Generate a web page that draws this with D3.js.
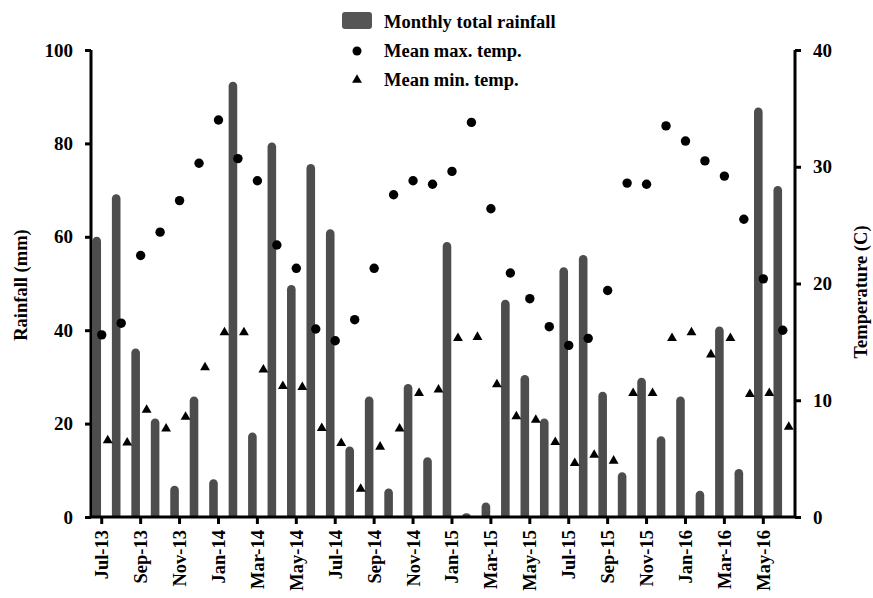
<!DOCTYPE html>
<html>
<head>
<meta charset="utf-8">
<script src="https://cdn.jsdelivr.net/npm/d3@7"></script>
<style>
  body { margin: 0; background: #fff; }
  text { font-family: "Liberation Serif", "Times New Roman", serif; font-weight: bold; fill: #000; }
</style>
</head>
<body>
<svg id="chart" width="873" height="598"></svg>
<script>
// months Jul-13 .. Jun-16
const months = ['Jul-13','Aug-13','Sep-13','Oct-13','Nov-13','Dec-13',
  'Jan-14','Feb-14','Mar-14','Apr-14','May-14','Jun-14','Jul-14','Aug-14','Sep-14','Oct-14','Nov-14','Dec-14',
  'Jan-15','Feb-15','Mar-15','Apr-15','May-15','Jun-15','Jul-15','Aug-15','Sep-15','Oct-15','Nov-15','Dec-15',
  'Jan-16','Feb-16','Mar-16','Apr-16','May-16','Jun-16'];
const rainfall = [60.0, 69.1, 36.1, 21.1, 6.7, 25.8,
  8.1, 93.2, 18.1, 80.2, 49.7, 75.6, 61.6, 15.1, 25.8, 6.1, 28.5, 12.8,
  58.9, 0.8, 3.1, 46.5, 30.4, 21.1, 53.5, 56.1, 26.8, 9.6, 29.8, 17.3,
  25.8, 5.6, 40.8, 10.3, 87.7, 70.9];
const maxTemp = [15.6, 16.6, 22.4, 24.4, 27.1, 30.3,
  34.0, 30.7, 28.8, 23.3, 21.3, 16.1, 15.1, 16.9, 21.3, 27.6, 28.8, 28.5,
  29.6, 33.8, 26.4, 20.9, 18.7, 16.3, 14.7, 15.3, 19.4, 28.6, 28.5, 33.5,
  32.2, 30.5, 29.2, 25.5, 20.4, 16.0];
const minTemp = [6.65, 6.45, 9.25, 7.65, 8.65, 12.9,
  15.9, 15.9, 12.7, 11.3, 11.2, 7.7, 6.4, 2.5, 6.1, 7.65, 10.7, 11.0,
  15.4, 15.5, 11.45, 8.7, 8.4, 6.5, 4.7, 5.4, 4.9, 10.7, 10.7, 15.4,
  15.9, 14.0, 15.4, 10.6, 10.7, 7.8];
const rainTicks = [0, 20, 40, 60, 80, 100];
const tempTicks = [0, 10, 20, 30, 40];
const tickLabels = months.filter((d, i) => i % 2 === 0);

const svg = d3.select('#chart');
const pLeft = 91, pRight = 795, pTop = 50, pBottom = 517;
const barColor = '#4d4d4d';

let x = d3.scaleBand().domain(months).range([92, 792.5]);
let yRain = d3.scaleLinear().domain([0, 100]).range([pBottom, pTop]);
let yTemp = d3.scaleLinear().domain([0, 40]).range([pBottom, pTop]);
const cx = (d) => x(d) + x.bandwidth() / 2;

// bars with rounded top
const bw = 8.6, r = bw / 2;
svg.append('g')
  .selectAll('path')
  .data(months)
  .enter()
  .append('path')
  .attr('fill', barColor)
  .attr('d', (d, i) => {
    let x0 = cx(d) - 5 - bw / 2;
    let yt = yRain(rainfall[i]);
    let h = pBottom - yt;
    let rr = Math.min(r, h);
    return 'M' + x0 + ',' + pBottom +
      'V' + (yt + rr) +
      'A' + r + ',' + rr + ' 0 0 1 ' + (x0 + bw) + ',' + (yt + rr) +
      'V' + pBottom + 'Z';
  });

// max temp circles
svg.append('g')
  .selectAll('circle')
  .data(months)
  .enter()
  .append('circle')
  .attr('cx', (d) => cx(d))
  .attr('cy', (d, i) => yTemp(maxTemp[i]))
  .attr('r', 4.7)
  .attr('fill', '#000');

// min temp triangles
const tri = d3.symbol().type(d3.symbolTriangle).size(42);
svg.append('g')
  .selectAll('path')
  .data(months)
  .enter()
  .append('path')
  .attr('d', tri)
  .attr('transform', (d, i) => 'translate(' + (cx(d) + 6) + ',' + (yTemp(minTemp[i]) + 1) + ')')
  .attr('fill', '#000');

// axes
const styleAxis = (g) => {
  g.select('.domain').remove();
  g.selectAll('.tick line').attr('stroke', '#000').attr('stroke-width', 3);
  g.selectAll('.tick text').style('font-size', '19px');
};

svg.append('g')
  .attr('transform', 'translate(' + pLeft + ',0)')
  .call(d3.axisLeft(yRain).tickValues(rainTicks).tickSize(6).tickPadding(12))
  .call(styleAxis);

svg.append('g')
  .attr('transform', 'translate(' + pRight + ',0)')
  .call(d3.axisRight(yTemp).tickValues(tempTicks).tickSize(6).tickPadding(12))
  .call(styleAxis);

let xAxis = svg.append('g')
  .attr('transform', 'translate(0,' + pBottom + ')')
  .call(d3.axisBottom(x).tickValues(tickLabels).tickSize(7).tickPadding(5))
  .call(styleAxis);
xAxis.selectAll('.tick text')
  .attr('transform', 'rotate(-90)')
  .attr('text-anchor', 'end')
  .attr('x', -13)
  .attr('y', 0)
  .attr('dy', '0.35em')
  .style('font-size', '18.5px');

// axis lines
svg.append('path')
  .attr('d', 'M' + pLeft + ',' + pTop + 'V' + pBottom + 'H' + pRight + 'V' + pTop)
  .attr('fill', 'none')
  .attr('stroke', '#000')
  .attr('stroke-width', 3);

// axis titles
svg.append('text')
  .attr('transform', 'translate(27,285) rotate(-90)')
  .attr('text-anchor', 'middle')
  .style('font-size', '18.5px')
  .text('Rainfall (mm)');
svg.append('text')
  .attr('transform', 'translate(867,292) rotate(-90)')
  .attr('text-anchor', 'middle')
  .style('font-size', '18.5px')
  .text('Temperature (C)');

// legend
let legend = svg.append('g');
legend.append('rect')
  .attr('x', 342).attr('y', 12).attr('width', 30).attr('height', 17)
  .attr('rx', 3).attr('fill', '#555');
legend.append('circle').attr('cx', 357).attr('cy', 51).attr('r', 4.5).attr('fill', '#000');
legend.append('path').attr('d', tri).attr('transform', 'translate(357,80)').attr('fill', '#000');
const legendText = ['Monthly total rainfall', 'Mean max. temp.', 'Mean min. temp.'];
legend.selectAll('text.lg')
  .data(legendText)
  .enter()
  .append('text')
  .attr('class', 'lg')
  .attr('x', 384)
  .attr('y', (d, i) => 28 + i * 29)
  .style('font-size', '18.5px')
  .text((d) => d);
</script>
</body>
</html>
